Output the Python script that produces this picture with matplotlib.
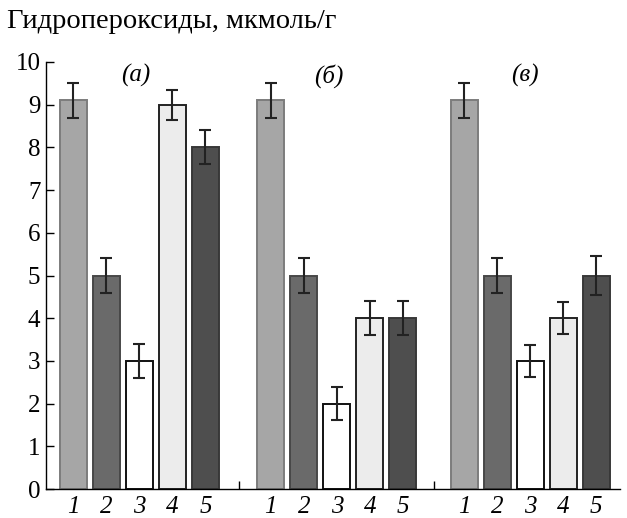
import matplotlib
matplotlib.use("Agg")
import matplotlib.pyplot as plt
import numpy as np

# Data
groups = ["(а)", "(б)", "(в)"]
bar_labels = ["1", "2", "3", "4", "5"]
values_a = [9.1, 5.0, 3.0, 9.0, 8.0]
values_b = [9.1, 5.0, 2.0, 4.0, 4.0]
values_v = [9.1, 5.0, 3.0, 4.0, 5.0]
errors_a = [0.4, 0.4, 0.4, 0.35, 0.4]
errors_b = [0.4, 0.42, 0.38, 0.4, 0.4]
errors_v = [0.4, 0.42, 0.38, 0.38, 0.45]
yticks = [0, 1, 2, 3, 4, 5, 6, 7, 8, 9, 10]
title = "Гидропероксиды, мкмоль/г"

face_colors = ["#a6a6a6", "#6a6a6a", "#ffffff", "#ececec", "#4e4e4e"]
edge_colors = ["#7c7c7c", "#484848", "#111111", "#222222", "#383838"]

W, H = 627, 518
fig = plt.figure(figsize=(W / 100, H / 100), dpi=100)
left_px, right_px, bottom_px, top_px = 46, 620, 489, 62
ax = fig.add_axes([left_px / W, 1 - bottom_px / H,
                   (right_px - left_px) / W, (bottom_px - top_px) / H])

serif = ["Liberation Serif", "DejaVu Serif"]
group_offsets = [0.0, 5.98, 11.84]
bar_w = 0.82

all_vals = [values_a, values_b, values_v]
all_errs = [errors_a, errors_b, errors_v]
label_shift = [1.9, 1.75, 1.85]
tick_pos, tick_lab = [], []
for g, (vals, errs) in enumerate(zip(all_vals, all_errs)):
    xs = group_offsets[g] + np.arange(len(vals))
    for i, (x, v, e) in enumerate(zip(xs, vals, errs)):
        ax.bar(x, v, width=bar_w, color=face_colors[i], edgecolor=edge_colors[i],
               linewidth=1.4, zorder=2)
        ax.errorbar(x, v, yerr=e, fmt="none", ecolor="#222222", elinewidth=1.5,
                    capsize=4.3, capthick=1.5, zorder=3)
        tick_pos.append(x)
        tick_lab.append(bar_labels[i])
    ax.text(group_offsets[g] + label_shift[g], 9.68, groups[g], fontsize=18,
            family=serif, style="italic", ha="center", va="center")

ax.set_xlim(-0.83, 16.56)
ax.set_ylim(0, 10)
ax.set_yticks(yticks)
ax.set_yticklabels([str(t) for t in yticks], family=serif, fontsize=18)
ax.set_xticks(tick_pos)
ax.set_xticklabels(tick_lab, family=serif, fontsize=18, style="italic")
ax.set_xticks([5.02, 10.92], minor=True)
ax.tick_params(axis="y", direction="in", length=6, width=1.0, pad=4)
ax.tick_params(axis="x", which="major", length=0, pad=5)
ax.tick_params(axis="x", which="minor", direction="in", length=6, width=1.0)

for s in ["top", "right"]:
    ax.spines[s].set_visible(False)
ax.spines["left"].set_linewidth(1.0)
ax.spines["bottom"].set_linewidth(1.0)

fig.text(7 / W, 1 - 22 / H, title, fontsize=20.5, family=serif, ha="left", va="center")

fig.savefig("out.png", dpi=100)
